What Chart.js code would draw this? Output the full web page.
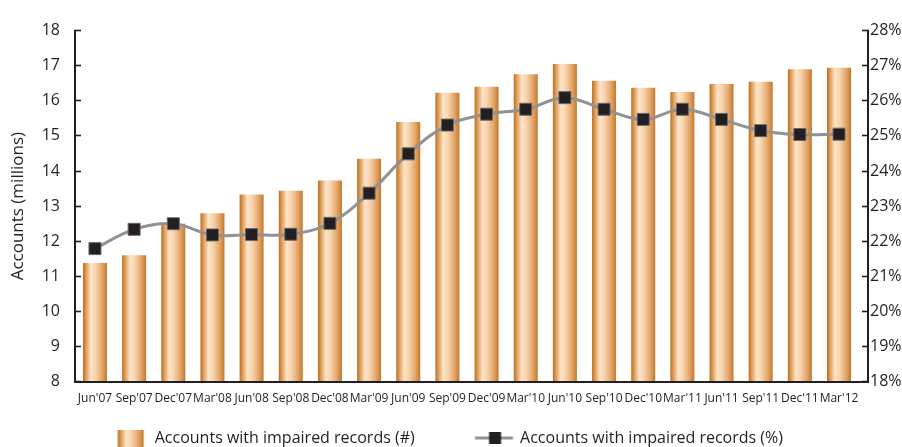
<!DOCTYPE html>
<html>
<head>
<meta charset="utf-8">
<title>Accounts with impaired records</title>
<script src="https://cdn.jsdelivr.net/npm/chart.js@4/dist/chart.umd.min.js"></script>
<style>
  html, body { margin: 0; padding: 0; background: #ffffff; }
  #wrap { width: 902px; height: 447px; }
</style>
</head>
<body>
<div id="wrap"><canvas id="chart" width="902" height="447"></canvas></div>
<script>
// Quarter labels along the x axis
const quarters = ["Jun'07", "Sep'07", "Dec'07", "Mar'08", "Jun'08", "Sep'08", "Dec'08",
  "Mar'09", "Jun'09", "Sep'09", "Dec'09", "Mar'10", "Jun'10", "Sep'10", "Dec'10",
  "Mar'11", "Jun'11", "Sep'11", "Dec'11", "Mar'12"];

// Accounts with impaired records, millions (bars, left axis)
const accountsMillions = [11.38, 11.60, 12.50, 12.80, 13.33, 13.44, 13.73, 14.35, 15.40, 16.23,
  16.40, 16.76, 17.05, 16.57, 16.37, 16.25, 16.48, 16.54, 16.90, 16.94];

// Share of accounts with impaired records, percent (line, right axis)
const impairedPercent = [21.79, 22.34, 22.50, 22.18, 22.19, 22.20, 22.51, 23.37, 24.49, 25.31,
  25.62, 25.76, 26.09, 25.76, 25.47, 25.76, 25.47, 25.15, 25.04, 25.05];

// Axis ranges
const leftAxisRange = [8, 18];
const rightAxisRange = [18, 28];

const seriesNames = ['Accounts with impaired records (#)', 'Accounts with impaired records (%)'];

const INK = '#231f20';
const LINE_GREY = '#929292';
const BAR_FRACTION = 0.613;
const FONT = "'Open Sans', sans-serif";

function addCopperStops(g) {
  g.addColorStop(0.00, '#c06c18');
  g.addColorStop(0.12, '#dc9a55');
  g.addColorStop(0.33, '#fde4c8');
  g.addColorStop(0.52, '#f8d4ad');
  g.addColorStop(0.80, '#e2a468');
  g.addColorStop(1.00, '#c4782a');
  return g;
}

// Legend swatches drawn onto small canvases
function barSwatch() {
  const c = document.createElement('canvas');
  c.width = 80; c.height = 18;
  const x = c.getContext('2d');
  x.fillStyle = addCopperStops(x.createLinearGradient(47.5, 0, 73.5, 0));
  x.fillRect(47.5, 1, 26, 17);
  return c;
}
function lineSwatch() {
  const c = document.createElement('canvas');
  c.width = 80; c.height = 14;
  const x = c.getContext('2d');
  x.strokeStyle = LINE_GREY; x.lineWidth = 3;
  x.beginPath(); x.moveTo(39.5, 7); x.lineTo(77.5, 7); x.stroke();
  x.fillStyle = INK;
  x.fillRect(53.5, 1, 12, 12);
  return c;
}
const swatches = [barSwatch(), lineSwatch()];

Chart.defaults.font.family = FONT;
Chart.defaults.color = INK;

const barData = quarters.map((q, i) => ({ x: i, y: accountsMillions[i] }));
const lineData = quarters.map((q, i) => ({ x: i, y: impairedPercent[i] }));

new Chart(document.getElementById('chart'), {
  type: 'bar',
  data: {
    datasets: [
      {
        type: 'bar',
        label: seriesNames[0],
        data: barData,
        yAxisID: 'y',
        order: 1,
        categoryPercentage: 1,
        barPercentage: BAR_FRACTION,
        borderWidth: 0,
        backgroundColor: (c) => {
          const chart = c.chart;
          const xs = chart.scales && chart.scales.x;
          if (!xs || !chart.chartArea || c.dataIndex === undefined) return '#e6ab70';
          const cx = xs.getPixelForValue(c.dataIndex);
          const half = (xs.getPixelForValue(1) - xs.getPixelForValue(0)) * BAR_FRACTION / 2;
          return addCopperStops(chart.ctx.createLinearGradient(cx - half, 0, cx + half, 0));
        }
      },
      {
        type: 'line',
        label: seriesNames[1],
        data: lineData,
        yAxisID: 'y1',
        order: 0,
        borderColor: LINE_GREY,
        borderWidth: 3,
        tension: 0.38,
        pointStyle: 'rect',
        pointRadius: 8.5,
        pointBackgroundColor: INK,
        pointBorderColor: '#6a6a6a',
        pointBorderWidth: 1
      }
    ]
  },
  options: {
    responsive: false,
    animation: false,
    layout: { padding: { left: -45.3, right: 0, top: 29.5, bottom: 0 } },
    plugins: {
      tooltip: { enabled: false },
      legend: {
        position: 'bottom',
        maxHeight: 41.3,
        labels: {
          usePointStyle: true,
          pointStyleWidth: 73,
          padding: 24.3,
          color: INK,
          font: { size: 16, family: FONT },
          sort: (a, b) => a.datasetIndex - b.datasetIndex,
          generateLabels: (chart) => {
            const items = Chart.defaults.plugins.legend.labels.generateLabels(chart);
            items.forEach((it) => { it.pointStyle = swatches[it.datasetIndex]; });
            return items;
          }
        }
      }
    },
    scales: {
      x: {
        type: 'linear',
        position: 'bottom',
        offset: false,
        min: -0.51,
        max: 19.74,
        afterFit: (s) => { s.height = 24; },
        grid: { display: false, drawTicks: false, offset: false },
        border: { display: true, color: INK, width: 2, z: 1 },
        ticks: {
          stepSize: 1,
          includeBounds: false,
          autoSkip: false,
          maxRotation: 0,
          minRotation: 0,
          padding: 10,
          color: INK,
          font: { size: 12 },
          callback: (v) => (Number.isInteger(v) && quarters[v] !== undefined ? quarters[v] : '')
        }
      },
      y: {
        position: 'left',
        min: leftAxisRange[0],
        max: leftAxisRange[1],
        afterFit: (s) => { s.width = 120.3; },
        grid: { drawOnChartArea: false, drawTicks: true, tickLength: -6, tickColor: INK, tickWidth: 1.6, color: INK },
        border: { display: true, color: INK, width: 2, z: 1 },
        ticks: { stepSize: 1, padding: 21, color: INK, font: { size: 16 } },
        title: {
          display: true,
          text: 'Accounts (millions)',
          color: INK,
          font: { size: 17 },
          padding: { top: 53.1, bottom: 0 }
        }
      },
      y1: {
        position: 'right',
        min: rightAxisRange[0],
        max: rightAxisRange[1],
        afterFit: (s) => { s.width = 34; },
        grid: { drawOnChartArea: false, drawTicks: true, tickLength: -6, tickColor: INK, tickWidth: 1.6, color: INK },
        border: { display: true, color: INK, width: 2, z: 1 },
        ticks: { stepSize: 1, padding: 8, color: INK, font: { size: 16 }, callback: (v) => v + '%' }
      }
    }
  }
});
</script>
</body>
</html>
